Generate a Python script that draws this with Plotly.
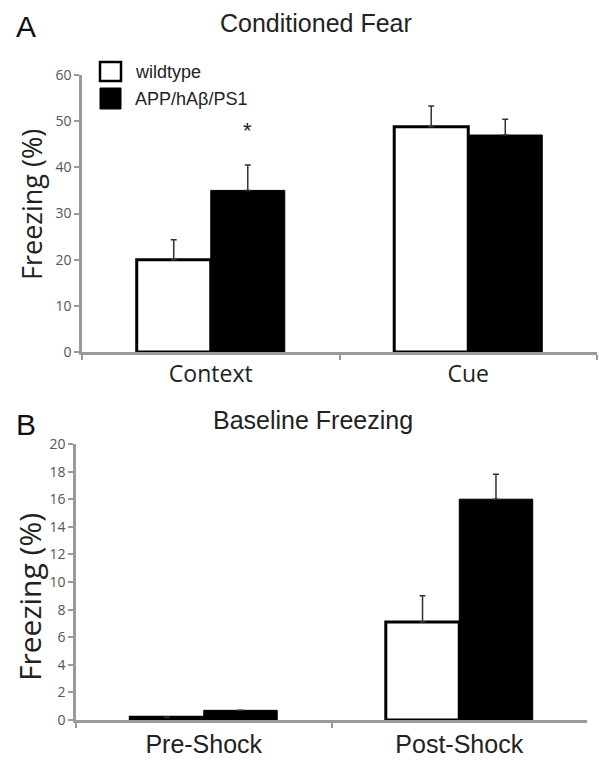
import plotly.graph_objects as go

W, H = 612, 767
PAGE_MARGIN = 8  # browser body margin offset compensation

# ---------------- data ----------------
fear_categories = ["Context", "Cue"]
fear_wildtype = [20.0, 48.8]
fear_wildtype_err = [4.3, 4.5]
fear_app = [35.0, 47.0]
fear_app_err = [5.5, 3.4]

base_categories = ["Pre-Shock", "Post-Shock"]
base_wildtype = [0.2, 7.1]
base_wildtype_err = [0.0, 1.9]
base_app = [0.7, 16.0]
base_app_err = [0.0, 1.8]

fear_ticks = [0, 10, 20, 30, 40, 50, 60]
base_ticks = [0, 2, 4, 6, 8, 10, 12, 14, 16, 18, 20]

series_names = ["wildtype", "APP/hAβ/PS1"]

# ---------------- helpers ----------------
def px(x):
    return (x - PAGE_MARGIN) / W

def py(y):
    return 1 - (y - PAGE_MARGIN) / H

BARGAP = 0.425
OFF = (1 - BARGAP) / 4

def err(vals):
    return dict(type="data", array=vals, arrayminus=[0] * len(vals), symmetric=False,
                color="#333333", thickness=1.5, width=3)

fig = go.Figure()

fig.add_bar(x=fear_categories, y=fear_wildtype, name=series_names[0], xaxis="x", yaxis="y",
            marker=dict(color="white", line=dict(color="black", width=3)),
            error_y=err(fear_wildtype_err), showlegend=False)
fig.add_bar(x=fear_categories, y=fear_app, name=series_names[1], xaxis="x", yaxis="y",
            marker=dict(color="black", line=dict(color="black", width=1)),
            error_y=err(fear_app_err), showlegend=False)
fig.add_bar(x=base_categories, y=base_wildtype, name=series_names[0], xaxis="x2", yaxis="y2",
            marker=dict(color="white", line=dict(color="black", width=3)),
            error_y=err(base_wildtype_err), showlegend=False)
fig.add_bar(x=base_categories, y=base_app, name=series_names[1], xaxis="x2", yaxis="y2",
            marker=dict(color="black", line=dict(color="black", width=1)),
            error_y=err(base_app_err), showlegend=False)

axis_common = dict(showline=True, linecolor="#9a9a9a", linewidth=2.5, showgrid=False,
                   zeroline=False, ticks="outside", ticklen=5, tickcolor="#9a9a9a", tickwidth=2,
                   automargin=False)

fig.update_layout(
    template="none",
    width=W, height=H,
    margin=dict(l=0, r=0, t=0, b=0, pad=0),
    plot_bgcolor="white", paper_bgcolor="white",
    barmode="group", bargap=BARGAP, bargroupgap=0,
    xaxis=dict(domain=[px(82), px(597)], anchor="y", type="category", range=[-0.5, 1.5],
               tickson="boundaries", tickfont=dict(family="Open Sans", size=23, color="#222"),
               **axis_common),
    yaxis=dict(domain=[py(352), py(75)], anchor="x", range=[0, 60], tickvals=fear_ticks,
               tickfont=dict(family="Open Sans", size=14, color="#555"), **axis_common),
    xaxis2=dict(domain=[px(76), px(587)], anchor="y2", type="category", range=[-0.5, 1.5],
                tickson="boundaries", tickfont=dict(family="Liberation Sans", size=25, color="#222"),
                **axis_common),
    yaxis2=dict(domain=[py(720), py(444)], anchor="x2", range=[0, 20], tickvals=base_ticks,
                tickfont=dict(family="Open Sans", size=14, color="#555"), **axis_common),
)

def note(text, x, y, size, family="Liberation Sans", xanchor="center", angle=0, color="#222"):
    return dict(text=text, x=px(x), y=py(y), xref="paper", yref="paper", showarrow=False,
                xanchor=xanchor, yanchor="middle", textangle=angle,
                font=dict(family=family, size=size, color=color))

ann = [
    note("A", 26, 26, 30, color="#111"),
    note("B", 26, 424, 30, color="#111"),
    note("Conditioned Fear", 316, 23, 25),
    note("Baseline Freezing", 313, 420, 25),
    note("Freezing (%)", 32, 205, 27, family="Open Sans", angle=-90),
    note("Freezing (%)", 29, 597, 30, family="Open Sans", angle=-90),
    note(series_names[0], 133, 72, 18, xanchor="left"),
    note(series_names[1], 133, 99, 18, xanchor="left"),
]
# significance asterisks
ann.append(dict(text="*", x=0 + OFF, y=48, xref="x", yref="y", showarrow=False,
                xanchor="center", yanchor="middle",
                font=dict(family="Liberation Sans", size=22, color="#222")))
ann.append(dict(text="*", x=1 + OFF, y=20.1, xref="x2", yref="y2", showarrow=False,
                xanchor="center", yanchor="middle",
                font=dict(family="Liberation Sans", size=22, color="#222")))
fig.update_layout(annotations=ann)

fig.add_shape(type="rect", xref="paper", yref="paper", x0=px(100), x1=px(121), y0=py(81), y1=py(62),
              fillcolor="white", line=dict(color="black", width=2.5))
fig.add_shape(type="rect", xref="paper", yref="paper", x0=px(100), x1=px(121), y0=py(109), y1=py(88),
              fillcolor="black", line=dict(color="black", width=1))

fig.write_html("out.html")
